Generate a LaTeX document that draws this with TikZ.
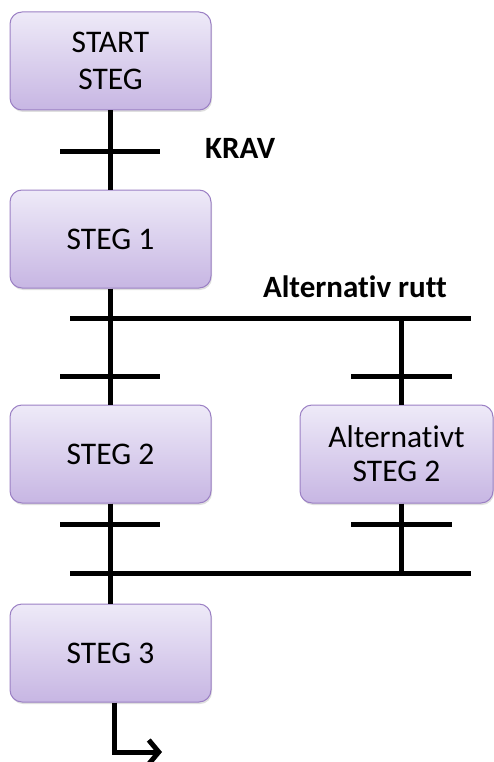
\documentclass[tikz,border=0pt]{standalone}
\usepackage{fontspec}
\setmainfont[Ligatures=NoCommon]{Carlito}
\usetikzlibrary{arrows.meta,shadows}
\definecolor{boxtop}{HTML}{EEEAF8}
\definecolor{boxbot}{HTML}{C7B6E3}
\definecolor{boxline}{HTML}{9B80C4}
\tikzset{
  stepbox/.style={draw=boxline, line width=1pt, rounded corners=12pt,
    top color=boxtop, bottom color=boxbot, minimum width=201pt, minimum height=98pt,
    align=center, font=\fontsize{31.5}{37}\selectfont,
    drop shadow={opacity=0.25, shadow xshift=1pt, shadow yshift=-2pt}},
  wire/.style={line width=5pt, black},
  lbl/.style={font=\bfseries\fontsize{31}{36}\selectfont}
}
\begin{document}
\begin{tikzpicture}[x=1pt,y=-1pt]
\useasboundingbox (0,0) rectangle (494,762);
% boxes
\node[stepbox] (start) at (110.5,61) {START\\STEG};
\node[stepbox] (s1) at (110.5,239) {STEG 1};
\node[stepbox] (s2) at (110.5,454) {STEG 2};
\node[stepbox, minimum width=193pt, font=\fontsize{31.5}{34}\selectfont] (alt) at (396.5,454) {Alternativt\\STEG 2};
\node[stepbox] (s3) at (110.5,653) {STEG 3};
% labels
\node[lbl, anchor=west, inner sep=0pt] (krav) at (205,148) {KRAV};
\node[lbl] (altr) at (355,287) {Alternativ rutt};
% coordinates
\coordinate (ka) at (60,152); \coordinate (kb) at (160,152);
\coordinate (ta) at (70,318); \coordinate (tb) at (471,318);
\coordinate (ra) at (401,318);
\coordinate (l1a) at (60,376); \coordinate (l1b) at (160,376);
\coordinate (r1a) at (351,376); \coordinate (r1b) at (452,376);
\coordinate (l2a) at (60,524); \coordinate (l2b) at (160,524);
\coordinate (r2a) at (351,524); \coordinate (r2b) at (452,524);
\coordinate (ba) at (70,573); \coordinate (bb) at (471,573);
\coordinate (rb) at (401,573);
\coordinate (ac) at (114,752);
\coordinate (ae) at (162,752);
% vertical connectors
\draw[wire] (start.south) -- (s1.north);
\draw[wire] (s1.south) -- (s2.north);
\draw[wire] (ra) -- (ra |- alt.north);
\draw[wire] (ra |- alt.south) -- (rb);
\draw[wire] (s2.south) -- (s3.north);
% bars
\draw[wire] (ka) -- (kb);
\draw[wire] (ta) -- (tb);
\draw[wire] (l1a) -- (l1b);
\draw[wire] (r1a) -- (r1b);
\draw[wire] (l2a) -- (l2b);
\draw[wire] (r2a) -- (r2b);
\draw[wire] (ba) -- (bb);
% exit arrow
\draw[wire, -{Straight Barb[length=10pt,width=24pt]}] (s3.south -| ac) -- (ac) -- (ae);
\end{tikzpicture}
\end{document}
